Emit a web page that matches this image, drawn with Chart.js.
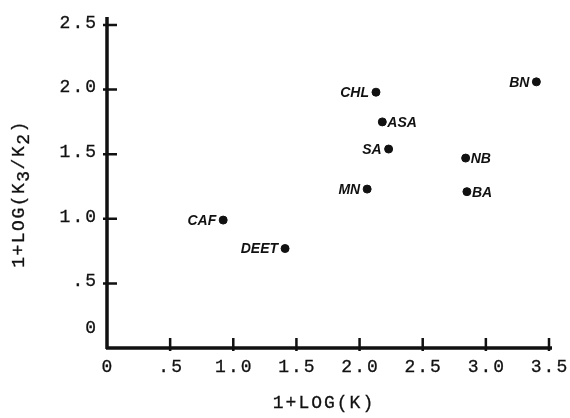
<!DOCTYPE html>
<html>
<head>
<meta charset="utf-8">
<script src="https://cdn.jsdelivr.net/npm/chart.js@4.4.1/dist/chart.umd.min.js"></script>
<style>
  html, body { margin: 0; padding: 0; background: #fff; }
  canvas { display: block; }
</style>
</head>
<body>
<canvas id="scatterChart" width="570" height="418"></canvas>
<script>
// compounds and their coordinates
const compounds = ['CAF', 'DEET', 'MN', 'CHL', 'ASA', 'SA', 'NB', 'BA', 'BN'];
const logK = [0.92, 1.41, 2.06, 2.13, 2.18, 2.23, 2.84, 2.85, 3.40];
const logK3K2 = [0.99, 0.77, 1.23, 1.98, 1.75, 1.54, 1.47, 1.21, 2.06];
const labelSide = ['left', 'left', 'left', 'left', 'right', 'left', 'right', 'right', 'left'];

// axis ticks
const xTickValues = [0, 0.5, 1.0, 1.5, 2.0, 2.5, 3.0, 3.5];
const xTickLabels = ['0', '.5', '1.0', '1.5', '2.0', '2.5', '3.0', '3.5'];
const yTickValues = [0, 0.5, 1.0, 1.5, 2.0, 2.5];
const yTickLabels = ['0', '.5', '1.0', '1.5', '2.0', '2.5'];

const monoFont = '18px "Liberation Mono", "DejaVu Sans Mono", monospace';
const labelFont = 'italic bold 14px "Liberation Sans", Arial, sans-serif';
const ink = '#111';

// fill plus a hairline stroke so the typed text looks a bit heavier
function typeText(ctx, str, x, y) {
  ctx.fillText(str, x, y);
  ctx.strokeText(str, x, y);
}

const axesPlugin = {
  id: 'typedAxes',
  afterDraw(chart) {
    const ctx = chart.ctx;
    const xs = chart.scales.x;
    const ys = chart.scales.y;
    const area = chart.chartArea;
    ctx.save();
    ctx.strokeStyle = ink;
    ctx.fillStyle = ink;
    ctx.lineCap = 'butt';

    // axis lines
    ctx.lineWidth = 3.5;
    ctx.beginPath();
    ctx.moveTo(area.left, area.bottom + 1);
    ctx.lineTo(area.left, area.top - 8);
    ctx.moveTo(area.left - 1, area.bottom);
    ctx.lineTo(area.right + 3, area.bottom);
    ctx.stroke();

    // tick marks
    ctx.lineWidth = 2.5;
    ctx.beginPath();
    yTickValues.forEach(v => {
      if (v === 0) return;
      const py = ys.getPixelForValue(v);
      ctx.moveTo(area.left - 4, py);
      ctx.lineTo(area.left + 10, py);
    });
    xTickValues.forEach(v => {
      if (v === 0) return;
      const px = xs.getPixelForValue(v);
      ctx.moveTo(px, area.bottom + 3);
      ctx.lineTo(px, area.bottom - 10);
    });
    ctx.stroke();

    // tick labels
    ctx.font = monoFont;
    ctx.letterSpacing = '2px';
    ctx.lineWidth = 0.3;
    ctx.textBaseline = 'middle';
    ctx.textAlign = 'right';
    yTickValues.forEach((v, i) => {
      let py = ys.getPixelForValue(v) - 2;
      if (v === 0) py -= 18;
      typeText(ctx, yTickLabels[i], area.left - 9, py);
    });
    ctx.textAlign = 'center';
    xTickValues.forEach((v, i) => {
      const px = xs.getPixelForValue(v) + 1;
      typeText(ctx, xTickLabels[i], px, area.bottom + 19);
    });

    // x title
    typeText(ctx, '1+LOG(K)', (area.left + area.right) / 2 - 4, area.bottom + 55);

    // y title with subscripts, rotated
    ctx.letterSpacing = '1.5px';
    ctx.translate(19, 194);
    ctx.rotate(-Math.PI / 2);
    const parts = [['1+LOG(K', 0], ['3', 1], ['/K', 0], ['2', 1], [')', 0]];
    ctx.textAlign = 'left';
    let total = 0;
    parts.forEach(p => { total += ctx.measureText(p[0]).width; });
    let cx = -total / 2;
    parts.forEach(p => {
      typeText(ctx, p[0], cx, p[1] ? 5 : 0);
      cx += ctx.measureText(p[0]).width;
    });
    ctx.restore();
  }
};

const pointLabelPlugin = {
  id: 'pointLabels',
  afterDatasetsDraw(chart) {
    const ctx = chart.ctx;
    const meta = chart.getDatasetMeta(0);
    ctx.save();
    ctx.font = labelFont;
    ctx.fillStyle = ink;
    ctx.textBaseline = 'middle';
    meta.data.forEach((pt, i) => {
      if (labelSide[i] === 'left') {
        ctx.textAlign = 'right';
        ctx.fillText(compounds[i], pt.x - 7, pt.y + 1);
      } else {
        ctx.textAlign = 'left';
        ctx.fillText(compounds[i], pt.x + 5, pt.y + 1);
      }
    });
    ctx.restore();
  }
};

new Chart(document.getElementById('scatterChart'), {
  type: 'scatter',
  data: {
    datasets: [{
      data: compounds.map((c, i) => ({ x: logK[i], y: logK3K2[i] })),
      backgroundColor: ink,
      borderColor: ink,
      pointRadius: 4,
      pointHoverRadius: 4
    }]
  },
  options: {
    responsive: false,
    animation: false,
    layout: { padding: { left: 107, top: 25, right: 21, bottom: 70 } },
    scales: {
      x: {
        type: 'linear',
        min: 0,
        max: 3.5,
        grid: { display: false, drawTicks: false },
        border: { display: false },
        ticks: { display: false },
        afterFit(scale) { scale.height = 0; }
      },
      y: {
        type: 'linear',
        min: 0,
        max: 2.5,
        grid: { display: false, drawTicks: false },
        border: { display: false },
        ticks: { display: false },
        afterFit(scale) { scale.width = 0; }
      }
    },
    plugins: {
      legend: { display: false },
      tooltip: { enabled: false }
    }
  },
  plugins: [axesPlugin, pointLabelPlugin]
});
</script>
</body>
</html>
